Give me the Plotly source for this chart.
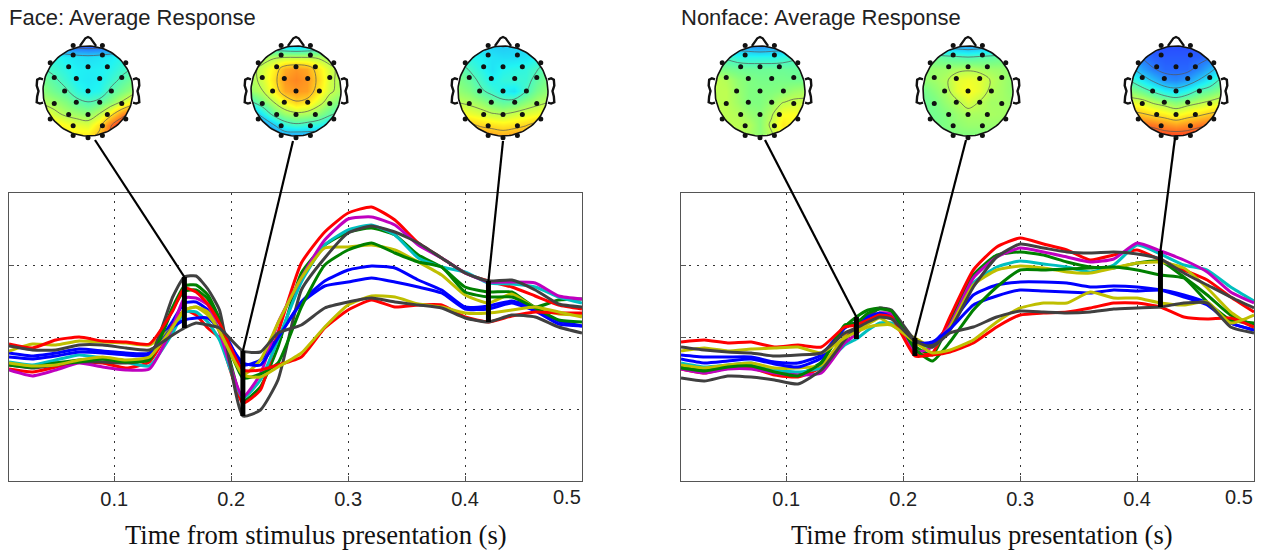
import numpy as np
import plotly.graph_objects as go

W, H = 1281, 550

times = [.01,.03,.05,.07,.09,.11,.13,.15,.16,.17,.18,.19,.21,.225,.24,.26,.28,.30,.32,.34,.36,.38,.40,.42,.44,.46,.48,.50]
colors = {"blue":"#0000ff","green":"#008000","red":"#ff0000","cyan":"#00bfbf","magenta":"#bf00bf","olive":"#bfbf00","gray":"#404040"}

face_red1 = [-32,-35,-30,-25,-26,-31,-25,12,27,22,9,-1,-66,-53,4,74,105,124,130,117,94,79,64,56,50,41,32,28]
face_magenta = [-33,-39,-33,-26,-30,-33,-32,10,39,39,32,5,-60,-37,14,59,97,118,120,112,92,79,64,55,55,54,41,38]
face_cyan = [-25,-28,-23,-18,-21,-25,-29,4,25,25,15,-3,-61,-43,-3,55,92,107,112,102,79,70,65,54,53,50,40,34]
face_green1 = [-26,-29,-26,-23,-22,-24,-21,30,51,52,42,18,-64,-50,-10,64,92,105,109,102,82,70,50,45,45,30,37,38]
face_gray1 = [-28,-31,-28,-25,-25,-26,-21,40,60,61,48,27,-79,-73,-43,47,79,104,111,105,94,79,64,56,57,47,33,30]
face_olive1 = [-14,-7,-8,-4,-5,-6,-8,10,27,30,25,6,-38,-23,14,59,89,90,92,87,75,62,42,34,43,29,23,22]
face_green2 = [-28,-30,-26,-25,-22,-25,-23,28,46,47,38,15,-41,-37,-26,30,72,87,94,84,75,70,45,40,40,29,17,15]
face_blue1 = [-16,-19,-16,-12,-14,-16,-16,16,34,35,27,14,-28,-23,0,35,56,67,71,69,57,47,30,31,36,28,16,11]
face_blue2 = [-20,-22,-19,-15,-16,-18,-18,10,17,19,19,8,-26,-28,-1,34,51,55,59,55,50,44,28,28,34,26,13,11]
face_gray2 = [-9,-13,-13,-8,-8,-11,-13,2,9,14,12,9,-14,-15,4,12,29,35,39,35,32,29,19,15,22,20,10,4]
face_olive2 = [-26,-29,-28,-23,-20,-23,-20,10,27,30,22,6,-38,-40,-30,-16,10,32,41,40,33,30,24,24,27,30,25,20]
face_red2 = [-7,-11,-3,0,-4,-5,-7,26,49,45,33,14,-33,-33,-28,-20,9,27,37,30,32,32,20,15,21,25,24,24]

nonface_red1 = [-32,-36,-31,-31,-38,-40,-30,0,10,20,22,22,-17,-16,20,67,90,99,93,87,77,82,87,77,67,57,40,25]
nonface_magenta = [-32,-36,-32,-32,-36,-38,-36,-6,3,15,24,23,-15,-10,12,59,80,89,85,80,75,78,94,86,77,65,45,34]
nonface_cyan = [-26,-30,-28,-26,-33,-35,-31,-8,-2,7,14,14,-6,-10,8,54,70,76,73,70,65,72,92,83,72,67,50,36]
nonface_green1 = [-29,-33,-30,-28,-33,-38,-25,10,20,27,29,26,-9,-18,16,62,82,85,82,75,70,69,74,76,60,42,22,12]
nonface_gray1 = [-41,-44,-39,-40,-43,-47,-33,-3,10,20,29,27,-3,-8,7,50,80,93,89,85,84,85,83,78,64,52,40,29]
nonface_olive1 = [-28,-31,-28,-26,-31,-31,-28,0,7,13,19,12,-1,-10,10,52,67,71,69,65,64,69,74,75,69,49,25,9]
nonface_green2 = [-31,-34,-30,-29,-35,-39,-26,12,14,24,28,26,-12,-24,-5,27,50,67,67,68,69,70,67,62,59,35,17,14]
nonface_blue1 = [-18,-20,-20,-20,-25,-26,-18,10,14,22,23,20,-6,-6,12,42,52,55,55,54,50,51,50,47,40,32,14,7]
nonface_blue2 = [-22,-26,-24,-22,-27,-30,-21,9,15,20,24,20,-6,-5,8,32,41,47,46,45,44,47,46,47,42,34,14,7]
nonface_gray2 = [-10,-13,-15,-16,-19,-18,-16,4,9,15,20,18,-4,-10,4,10,20,26,25,24,25,28,29,30,34,34,10,4]
nonface_olive2 = [-14,-11,-14,-12,-11,-10,-16,-1,5,10,12,12,-5,-16,-13,-3,15,29,34,34,45,39,39,34,32,35,14,22]
nonface_red2 = [-5,-3,-6,-5,-10,-8,-10,10,12,17,22,20,-19,-18,-15,-6,10,22,24,25,29,34,34,30,20,18,19,10]

face_series = [("blue",face_blue1),("green",face_green1),("red",face_red1),("cyan",face_cyan),("magenta",face_magenta),("olive",face_olive1),("gray",face_gray1),("blue",face_blue2),("green",face_green2),("red",face_red2),("olive",face_olive2),("gray",face_gray2)]
nonface_series = [("blue",nonface_blue1),("green",nonface_green1),("red",nonface_red1),("cyan",nonface_cyan),("magenta",nonface_magenta),("olive",nonface_olive1),("gray",nonface_gray1),("blue",nonface_blue2),("green",nonface_green2),("red",nonface_red2),("olive",nonface_olive2),("gray",nonface_gray2)]

marker_times = [0.16, 0.21, 0.42]
tick_vals = [0.1, 0.2, 0.3, 0.4]
panel_titles = ["Face: Average Response", "Nonface: Average Response"]
x_title = "Time from stimulus presentation (s)"

elec_x = [-.33,.32,-.84,.84,-.33,.32,-.43,0,.43,-.75,-.26,.26,.75,-.52,0,.52,-.75,-.26,.26,.75,-.84,-.43,0,.43,.84,-.33,.32,-.33,0,.32]
elec_y = [1.01,1.01,.63,.63,.80,.80,.54,.54,.54,.30,.28,.28,.30,0,0,0,-.28,-.25,-.25,-.28,-.62,-.52,-.52,-.52,-.62,-.77,-.77,-.99,-1.04,-.99]
grid = [-1,-.75,-.5,-.25,0,.25,.5,.75,1]
grid_rows = [1,.75,.5,.25,0,-.25,-.5,-.75,-1]

map_f1 = [[-.55,-.6,-.65,-.7,-.72,-.7,-.65,-.6,-.55],
 [-.2,-.22,-.27,-.3,-.32,-.3,-.27,-.22,-.2],
 [-.12,-.17,-.22,-.26,-.27,-.26,-.23,-.17,-.12],
 [-.03,-.1,-.18,-.26,-.28,-.26,-.18,-.1,-.03],
 [.02,-.04,-.1,-.2,-.26,-.23,-.1,-.02,.06],
 [.1,.06,0,-.08,-.12,-.08,.02,.14,.28],
 [.25,.16,.09,.06,.03,.12,.3,.52,.68],
 [.38,.3,.25,.2,.18,.32,.6,.8,.9],
 [.42,.38,.3,.3,.3,.42,.68,.85,.9]]
map_f2 = [[-.25,-.25,-.28,-.32,-.35,-.32,-.28,-.25,-.25],
 [.03,.06,.1,.12,.12,.12,.1,.06,.03],
 [.08,.16,.28,.45,.5,.46,.3,.16,.08],
 [.08,.16,.32,.5,.54,.5,.34,.16,.08],
 [.05,.12,.28,.46,.5,.48,.3,.15,.08],
 [-.15,-.02,.12,.26,.36,.32,.18,.06,-.02],
 [-.5,-.28,-.06,.05,.1,.08,.02,-.08,-.18],
 [-.72,-.58,-.38,-.2,-.15,-.18,-.22,-.32,-.42],
 [-.8,-.72,-.58,-.5,-.5,-.5,-.5,-.5,-.5]]
map_f3 = [[-.32,-.33,-.34,-.36,-.38,-.36,-.34,-.33,-.32],
 [-.18,-.22,-.26,-.3,-.32,-.32,-.3,-.24,-.18],
 [-.06,-.14,-.22,-.3,-.24,-.22,-.2,-.14,-.05],
 [0,-.06,-.16,-.25,-.2,-.18,-.18,-.08,0],
 [.04,0,-.1,-.17,-.25,-.3,-.14,-.02,.04],
 [.12,.09,.04,-.03,-.08,-.06,.02,.08,.12],
 [.28,.22,.18,.13,.11,.15,.19,.22,.28],
 [.45,.4,.35,.32,.3,.32,.36,.42,.45],
 [.5,.5,.5,.48,.45,.48,.5,.5,.5]]
map_n1 = [[-.5,-.5,-.5,-.52,-.55,-.52,-.5,-.5,-.5],
 [-.12,-.15,-.2,-.22,-.22,-.22,-.2,-.15,-.12],
 [0,-.02,-.04,-.05,-.05,-.05,-.05,-.06,-.06],
 [.13,.1,.03,0,-.02,-.02,-.02,-.03,-.03],
 [.12,.12,.05,0,0,0,.02,.06,.08],
 [.12,.12,.06,0,0,.04,.12,.15,.15],
 [.12,.12,.1,.05,.02,.1,.24,.25,.2],
 [.12,.12,.12,.1,.02,.15,.3,.25,.18],
 [.1,.1,.1,.08,.03,.1,.2,.15,.12]]
map_n2 = [[-.45,-.45,-.45,-.47,-.5,-.47,-.45,-.45,-.45],
 [-.05,-.05,-.08,-.1,-.12,-.1,-.08,-.05,-.05],
 [.02,.05,.06,.08,.1,.08,.06,.05,.02],
 [.03,.06,.1,.2,.22,.2,.12,.07,.03],
 [-.03,.02,.08,.2,.25,.2,.1,.07,.03],
 [-.05,-.02,.05,.1,.18,.12,.07,.07,.05],
 [-.05,-.03,0,.05,.08,.08,.08,.07,.05],
 [-.05,-.03,0,.03,.05,.05,.05,.05,.03],
 [-.05,-.04,-.03,0,0,0,0,0,0]]
map_n3 = [[-.7,-.74,-.76,-.76,-.76,-.76,-.76,-.74,-.7],
 [-.55,-.64,-.7,-.72,-.72,-.72,-.7,-.64,-.5],
 [-.35,-.5,-.62,-.68,-.68,-.68,-.58,-.45,-.3],
 [-.15,-.28,-.42,-.55,-.58,-.52,-.38,-.25,-.1],
 [.02,-.05,-.15,-.25,-.3,-.22,-.1,-.05,.02],
 [.2,.18,.1,.05,0,.05,.1,.15,.2],
 [.42,.38,.32,.28,.22,.28,.32,.38,.42],
 [.65,.62,.58,.52,.48,.52,.58,.62,.65],
 [.85,.8,.75,.72,.72,.72,.75,.8,.85]]
maps = [map_f1, map_f2, map_f3, map_n1, map_n2, map_n3]
map_centres = [88, 296, 503, 760, 968, 1176]
map_cy = 91
map_half = 56.25
jet = [[0,"#2038ff"],[.125,"#2850ff"],[.375,"#20f4f4"],[.5,"#80ff80"],[.625,"#ffff20"],[.875,"#ff3020"],[1,"#d01010"]]

# panel geometry in pixels
panels = [(9, 582), (681, 1254)]
top, bottom = 193, 481
xr = [0.01, 0.5]
yr = [-144, 144]
# upper end of each leader, pixels
leader_x = [[95, 293, 503], [765, 966, 1175]]
leader_y = [140, 141, 141, 140, 140, 138]
x_title_centres = [316, 982]

fig = go.Figure()
layout = dict(width=W, height=H, margin=dict(l=0, r=0, t=0, b=0), showlegend=False,
              paper_bgcolor="white", plot_bgcolor="white",
              font=dict(family="Liberation Sans", color="#222"))
annotations, shapes = [], []

for i, (series, (x0, x1)) in enumerate(zip([face_series, nonface_series], panels)):
    ax = "" if i == 0 else "2"
    for cname, vals in series:
        fig.add_trace(go.Scatter(x=times, y=vals, mode="lines", xaxis="x"+ax, yaxis="y"+ax,
                                 line=dict(color=colors[cname], width=3, shape="spline", smoothing=0.5),
                                 hoverinfo="skip"))
    arr = np.array([v for _, v in series], dtype=float)
    for k, t in enumerate(marker_times):
        j = times.index(t)
        hi, lo = float(arr[:, j].max()), float(arr[:, j].min())
        fig.add_trace(go.Scatter(x=[t, t], y=[lo, hi], mode="lines", xaxis="x"+ax, yaxis="y"+ax,
                                 line=dict(color="black", width=5), hoverinfo="skip"))
        px = x0 + (t - xr[0]) / (xr[1] - xr[0]) * (x1 - x0)
        py = top + (yr[1] - hi) / (yr[1] - yr[0]) * (bottom - top)
        shapes.append(dict(type="line", xref="paper", yref="paper",
                           x0=leader_x[i][k] / W, y0=1 - leader_y[i*3+k] / H,
                           x1=px / W, y1=1 - py / H,
                           line=dict(color="black", width=2.2)))
    layout["xaxis"+ax] = dict(domain=[x0/W, x1/W], range=xr, tickmode="array", tickvals=tick_vals,
                              ticktext=["%.1f" % v for v in tick_vals],
                              showgrid=True, gridcolor="#333", griddash="2px,6px", gridwidth=1,
                              zeroline=False, showline=True, mirror=True, linecolor="#555", linewidth=1.2,
                              ticks="inside", ticklen=5, tickcolor="#555", tickfont=dict(size=20, color="#222"),
                              anchor="y"+ax)
    layout["yaxis"+ax] = dict(domain=[1-bottom/H, 1-top/H], range=yr, tickmode="array", tickvals=[-72, 0, 72],
                              showticklabels=False, showgrid=True, gridcolor="#333", griddash="2px,6px", gridwidth=1,
                              zeroline=False, showline=True, mirror=True, linecolor="#555", linewidth=1.2,
                              ticks="inside", ticklen=5, tickcolor="#555", anchor="x"+ax)
    annotations.append(dict(text="0.5", xref="paper", yref="paper", x=(x1+1)/W, y=1-484/H,
                            xanchor="right", yanchor="top", showarrow=False, font=dict(size=20, color="#222")))
    annotations.append(dict(text=panel_titles[i], xref="paper", yref="paper", x=(x0-2)/W, y=1-18/H,
                            xanchor="left", yanchor="middle", showarrow=False, font=dict(size=22, color="#222")))
    annotations.append(dict(text=x_title, xref="paper", yref="paper", x=x_title_centres[i]/W, y=1-535/H,
                            xanchor="center", yanchor="middle", showarrow=False,
                            font=dict(family="Liberation Serif", size=26.6, color="#111")))

theta = np.linspace(0, 2*np.pi, 121)
ring_x = np.concatenate([[1.25, 1.25, -1.25, -1.25, 1.25, 1.25], np.cos(theta)[::-1]])
ring_y = np.concatenate([[0, 1.25, 1.25, -1.25, -1.25, 0], np.sin(theta)[::-1]])
nose_x = [-.18, -.06, 0, .06, .18]
nose_y = [1.0, 1.17, 1.2, 1.17, 1.0]
ear_x = [1.0, 1.07, 1.13, 1.14, 1.1, 1.13, 1.14, 1.07, 1.0]
ear_y = [.26, .28, .25, .12, 0, -.12, -.25, -.28, -.26]

for m, (z, cx) in enumerate(zip(maps, map_centres)):
    n = str(m + 3)
    xa, ya = "x"+n, "y"+n
    fig.add_trace(go.Contour(x=grid, y=grid_rows, z=z, zmin=-1, zmax=1, colorscale=jet, showscale=False,
                             contours=dict(coloring="heatmap", start=-.875, end=.875, size=.25),
                             line=dict(color="#555", width=.7, smoothing=1), xaxis=xa, yaxis=ya, hoverinfo="skip"))
    fig.add_trace(go.Scatter(x=ring_x, y=ring_y, mode="lines", fill="toself", fillcolor="white",
                             line=dict(width=0, color="white"), xaxis=xa, yaxis=ya, hoverinfo="skip"))
    for ox, oy, lw in [(np.cos(theta), np.sin(theta), 1.6), (nose_x, nose_y, 2.2), (ear_x, ear_y, 2.4), (-np.array(ear_x), ear_y, 2.4)]:
        fig.add_trace(go.Scatter(x=ox, y=oy, mode="lines", line=dict(color="#111", width=lw),
                                 xaxis=xa, yaxis=ya, hoverinfo="skip"))
    fig.add_trace(go.Scatter(x=elec_x, y=elec_y, mode="markers", marker=dict(color="#111", size=5),
                             xaxis=xa, yaxis=ya, hoverinfo="skip", cliponaxis=False))
    layout["xaxis"+n] = dict(domain=[(cx-map_half)/W, (cx+map_half)/W], range=[-1.25, 1.25], visible=False, anchor=ya)
    layout["yaxis"+n] = dict(domain=[1-(map_cy+map_half)/H, 1-(map_cy-map_half)/H], range=[-1.25, 1.25], visible=False, anchor=xa)

layout["annotations"] = annotations
layout["shapes"] = shapes
fig.update_layout(**layout)
fig.write_html("out.html", config={"displayModeBar": False}, post_script="document.body.style.margin='0';")
